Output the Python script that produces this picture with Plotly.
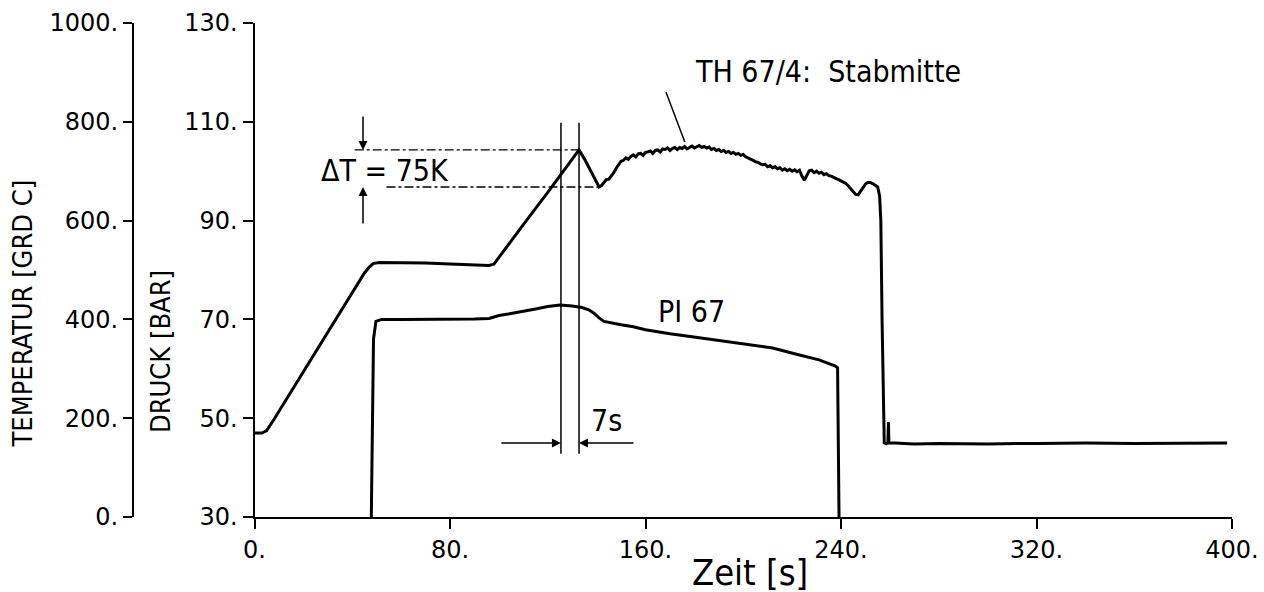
import plotly.graph_objects as go

# ---------------- data ----------------
# TH 67/4 : Stabmitte  (temperature, deg C) vs time (s)
th_time = [0, 3, 5, 8, 20, 35, 45, 47, 48.5, 51, 60, 70, 80, 90, 96, 98, 103, 110, 120, 128, 132.8,
           135, 138, 141, 142, 143, 144, 145, 146, 147, 148, 149, 150, 151, 152, 153, 154, 155,
           156, 157, 158, 159, 160, 161, 162, 163, 164, 165, 166, 167, 168, 169, 170, 171, 172,
           173, 174, 175, 176, 177, 178, 179, 180, 181, 182, 183, 184, 185, 186, 187, 188, 189,
           190, 191, 192, 193, 194, 195, 196, 197, 198, 199, 200, 201, 202, 203, 204, 205, 206,
           207, 208, 209, 210, 211, 212, 213, 214, 215, 216, 217, 218, 219, 220, 221, 222, 223,
           224, 225, 226, 227, 228, 229, 230, 231, 232, 233, 234, 235, 236, 237, 238, 239, 240,
           241, 242, 243, 244, 245, 246, 247, 248, 249, 250, 251, 252, 253, 254, 255, 255.8,
           256.3, 256.8, 257.3, 257.7, 258.5, 259.2, 259.4, 259.6, 262, 270, 280, 300, 320, 340,
           360, 380, 398]
th_temp = [170, 170, 175, 198, 294, 415, 494, 506, 513, 515, 515, 514, 512, 510, 509, 512, 546, 592, 657, 710, 743,
           725, 695, 668, 671, 676, 683, 684, 690, 697, 706, 714, 720, 722, 727, 724, 730, 733,
           729, 735, 736, 732, 738, 739, 741, 736, 742, 743, 739, 745, 744, 747, 742, 746, 748,
           744, 748, 746, 750, 745, 748, 751, 747, 749, 752, 748, 750, 747, 749, 744, 746, 742,
           744, 740, 742, 738, 740, 736, 738, 734, 736, 732, 734, 729, 727, 724, 722, 719, 718,
           715, 713, 714, 709, 711, 707, 709, 705, 707, 702, 705, 701, 704, 700, 703, 699, 702,
           690, 682, 692, 701, 702, 697, 700, 696, 698, 693, 695, 691, 690, 687, 685, 683, 680,
           678, 675, 670, 664, 658, 653, 652, 660, 668, 674, 677, 677, 675, 672, 668, 650,
           600, 400, 220, 150, 148, 150, 192, 150, 150, 148, 149, 148, 149, 150,
           149, 149, 150]

# PI 67 (pressure, bar) vs time (s)
pi_time = [47.8, 48.2, 48.7, 49.7, 52, 60, 70, 80, 90, 96, 100, 105, 110, 115, 120, 125, 130, 134,
           137, 139, 141, 143, 150, 155, 160, 170, 182, 190, 200, 212, 223, 231, 237.5, 238.6,
           238.9, 239.2]
pi_press = [30, 45, 66, 69.6, 70, 70, 70, 70, 70.1, 70.2, 70.8, 71.2, 71.6, 72.1, 72.6, 72.9, 72.7, 72.4,
            71.9, 71.2, 70.3, 69.6, 68.9, 68.5, 67.9, 67.1, 66.3, 65.7, 65.0, 64.2, 62.8, 61.8, 60.6, 60.2,
            45, 30]

# axis ticks
x_ticks = [0, 80, 160, 240, 320, 400]
x_ticktext = ["0.", "80.", "160.", "240.", "320.", "400."]
p_ticks = [30, 50, 70, 90, 110, 130]
p_ticktext = ["30.", "50.", "70.", "90.", "110.", "130."]
t_ticks = [0, 200, 400, 600, 800, 1000]
t_ticktext = ["0.", "200.", "400.", "600.", "800.", "1000."]

# annotation values
marker_times = [125.4, 132.8]          # the two vertical lines (7 s apart)
dT_levels = [743, 668]                 # delta T = 75 K

# ---------------- layout geometry ----------------
W, H = 1264, 592
M_L, M_R, M_T, M_B = 0, 32, 23, 75
PW = W - M_L - M_R
PH = H - M_T - M_B
X0_PX = 254.5
TAXIS_PX = 133

def px_x(p):
    return (p - M_L) / PW

def px_y(p):
    return (H - M_B - p) / PH

FONT = "DejaVu Sans, Arial, sans-serif"
CFONT = "DejaVu Sans Condensed, Liberation Sans Narrow, DejaVu Sans, sans-serif"

fig = go.Figure()
fig.add_trace(go.Scatter(x=th_time, y=th_temp, yaxis="y2", mode="lines",
                         line=dict(color="black", width=3), showlegend=False,
                         name="TH 67/4"))
fig.add_trace(go.Scatter(x=pi_time, y=pi_press, yaxis="y", mode="lines",
                         line=dict(color="black", width=3), showlegend=False,
                         name="PI 67"))

shapes = []
for mt in marker_times:
    shapes.append(dict(type="line", xref="x", yref="y2", x0=mt, x1=mt, y0=128, y1=798,
                       line=dict(color="black", width=1.5)))
shapes.append(dict(type="line", xref="x", yref="y2", x0=41, x1=marker_times[1],
                   y0=dT_levels[0], y1=dT_levels[0],
                   line=dict(color="black", width=1.3, dash="dashdot")))
shapes.append(dict(type="line", xref="x", yref="y2", x0=54, x1=141,
                   y0=dT_levels[1], y1=dT_levels[1],
                   line=dict(color="black", width=1.3, dash="dashdot")))
# leader line to the TH curve
shapes.append(dict(type="line", xref="x", yref="y2", x0=168.4, x1=176.1, y0=860, y1=759,
                   line=dict(color="black", width=1.5)))

ann = []
def arrow(xh, yh, xt, yt):
    ann.append(dict(x=xh, y=yh, ax=xt, ay=yt, xref="x", yref="y2", axref="x", ayref="y2",
                    text="", showarrow=True, arrowhead=2, arrowsize=1.2, arrowwidth=1.5,
                    arrowcolor="black", standoff=0))

arrow(44.4, dT_levels[0], 44.4, 814)
arrow(44.4, dT_levels[1], 44.4, 591)
arrow(marker_times[0], 150, 100.4, 150)
arrow(marker_times[1], 150, 155.7, 150)

def text(x, y, s, size, xanchor="center"):
    ann.append(dict(x=x, y=y, xref="x", yref="y2", text=s, showarrow=False,
                    xanchor=xanchor, yanchor="middle",
                    font=dict(family=CFONT, size=size, color="black")))

text(179.3, 901, "TH 67/4:\u00a0\u00a0Stabmitte", 30, xanchor="left")
text(53.4, 702, "ΔT = 75K", 30)
text(179, 415, "PI 67", 30)
text(144.2, 196, "7s", 30)

# axis titles
ann.append(dict(x=px_x(22), y=px_y(313.5), xref="paper", yref="paper", text="TEMPERATUR [GRD C]",
                textangle=-90, showarrow=False, xanchor="center", yanchor="middle",
                font=dict(family=CFONT, size=27, color="black")))
ann.append(dict(x=px_x(160), y=px_y(351), xref="paper", yref="paper", text="DRUCK [BAR]",
                textangle=-90, showarrow=False, xanchor="center", yanchor="middle",
                font=dict(family=CFONT, size=27, color="black")))
ann.append(dict(x=px_x(750), y=px_y(572), xref="paper", yref="paper", text="Zeit [s]",
                showarrow=False, xanchor="center", yanchor="middle",
                font=dict(family=CFONT, size=36, color="black")))

axis_common = dict(showgrid=False, zeroline=False, showline=True, linecolor="black",
                   linewidth=2, ticks="outside", tickcolor="black", tickwidth=2,
                   tickfont=dict(family=FONT, size=24, color="black"))

fig.update_layout(
    width=W, height=H,
    margin=dict(l=M_L, r=M_R, t=M_T, b=M_B, autoexpand=False),
    paper_bgcolor="white", plot_bgcolor="white",
    xaxis=dict(range=[0, 400], domain=[px_x(X0_PX), 1], tickvals=x_ticks, ticktext=x_ticktext,
               ticklen=10, **axis_common),
    yaxis=dict(range=[30, 130], tickvals=p_ticks, ticktext=p_ticktext, ticklen=10,
               anchor="x", side="left", **axis_common),
    yaxis2=dict(range=[0, 1000], tickvals=t_ticks, ticktext=t_ticktext, ticklen=9,
                overlaying="y", anchor="free", position=px_x(TAXIS_PX), side="left",
                **axis_common),
    shapes=shapes, annotations=ann, showlegend=False,
)

fig.write_html("out.html")
